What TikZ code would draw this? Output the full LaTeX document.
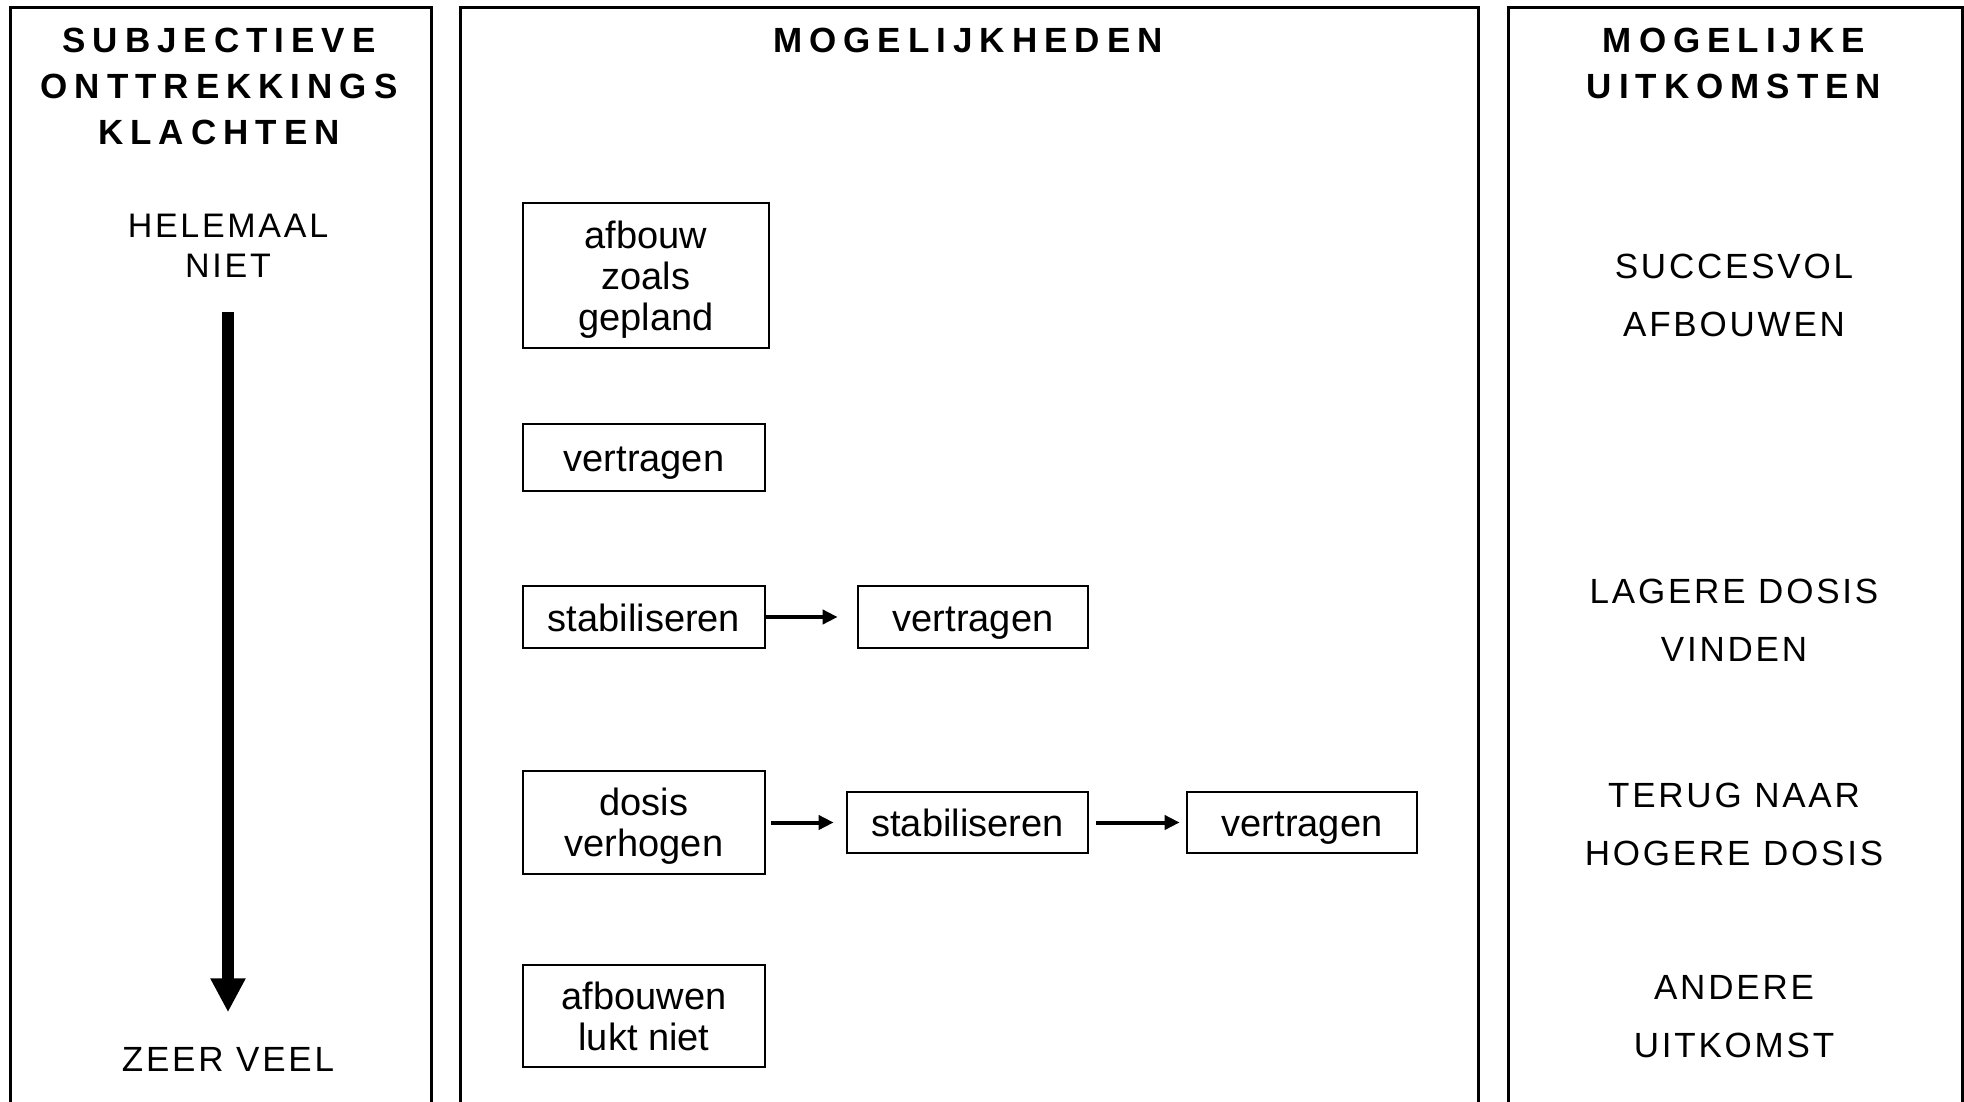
\documentclass[tikz,border=0pt]{standalone}
\usepackage{fontspec}
\setmainfont{Liberation Sans}
\newfontfamily\headfont[LetterSpace=20]{Liberation Sans}
\newfontfamily\capsfont[LetterSpace=8]{Liberation Sans}
\usetikzlibrary{arrows.meta}

\begin{document}
\begin{tikzpicture}[x=1pt,y=-1pt]
	\tikzstyle{every node}+=[inner sep=0pt]
	\tikzstyle{panel}=[black, line width=3pt]
	\tikzstyle{colhead}=[align=center, font=\headfont\bfseries\fontsize{35}{46}\selectfont]
	\tikzstyle{scaletext}=[align=center, font=\capsfont\fontsize{35}{58}\selectfont]
	\tikzstyle{optbox}=[draw, line width=2.7pt, align=center, text depth=0pt, font=\fontsize{38}{41}\selectfont]
	\tikzstyle{oneline}=[optbox, text height=28pt]
	\tikzstyle{flowarrow}=[line width=4pt, -{Triangle[length=15pt,width=14pt]}]
	\tikzstyle{bigarrow}=[line width=11.6pt, -{Triangle[length=34pt,width=33pt]}]
	\useasboundingbox (0,0) rectangle (1964,1102);
	\draw [panel] (10,1102) -- (10,7.5) -- (431,7.5) -- (431,1102);
	\draw [panel] (460,1102) -- (460,7.5) -- (1478,7.5) -- (1478,1102);
	\draw [panel] (1508,1102) -- (1508,7.5) -- (1962,7.5) -- (1962,1102);
	\node[colhead] (subj) at (219,86.5) {SUBJECTIEVE\\ONTTREKKINGS\\KLACHTEN};
	\node[colhead] (mogel) at (968,40) {MOGELIJKHEDEN};
	\node[colhead] (uitk) at (1734,63) {MOGELIJKE\\UITKOMSTEN};
	\node[scaletext, font=\capsfont\fontsize{34}{40}\selectfont] (niet) at (228,246) {HELEMAAL\\NIET};
	\node[scaletext] (veel) at (228,1059.5) {ZEER VEEL};
	\draw [bigarrow, shorten <=34pt, shorten >=35pt] (niet) -- (veel);
	\node[optbox, minimum width=246pt, minimum height=145pt] (plan) at (646,275.5) {afbouw\\zoals\\gepland};
	\node[oneline, minimum width=242pt, minimum height=67pt] (vert1) at (644,457.5) {vertragen};
	\node[oneline, minimum width=242pt, minimum height=62pt] (stab1) at (644,617) {stabiliseren};
	\node[oneline, minimum width=230pt, minimum height=62pt] (vert2) at (973,617) {vertragen};
	\node[optbox, minimum width=242pt, minimum height=103pt] (dosis) at (644,822.5) {dosis\\verhogen};
	\node[oneline, minimum width=241pt, minimum height=61pt] (stab2) at (967.5,822.5) {stabiliseren};
	\node[oneline, minimum width=230pt, minimum height=61pt] (vert3) at (1302,822.5) {vertragen};
	\node[optbox, minimum width=242pt, minimum height=102pt] (lukt) at (644,1016) {afbouwen\\lukt niet};
	\draw [flowarrow, shorten >=19pt] (stab1) -- (vert2);
	\draw [flowarrow, shorten <=5pt, shorten >=12pt] (dosis) -- (stab2);
	\draw [flowarrow, shorten <=7pt, shorten >=6pt] (stab2) -- (vert3);
	\node[scaletext] (succes) at (1734,295) {SUCCESVOL\\AFBOUWEN};
	\node[scaletext] (lager) at (1734,620) {LAGERE DOSIS\\VINDEN};
	\node[scaletext] (terug) at (1734,824) {TERUG NAAR\\HOGERE DOSIS};
	\node[scaletext] (andere) at (1734,1017) {ANDERE\\UITKOMST};
\end{tikzpicture}
\end{document}
